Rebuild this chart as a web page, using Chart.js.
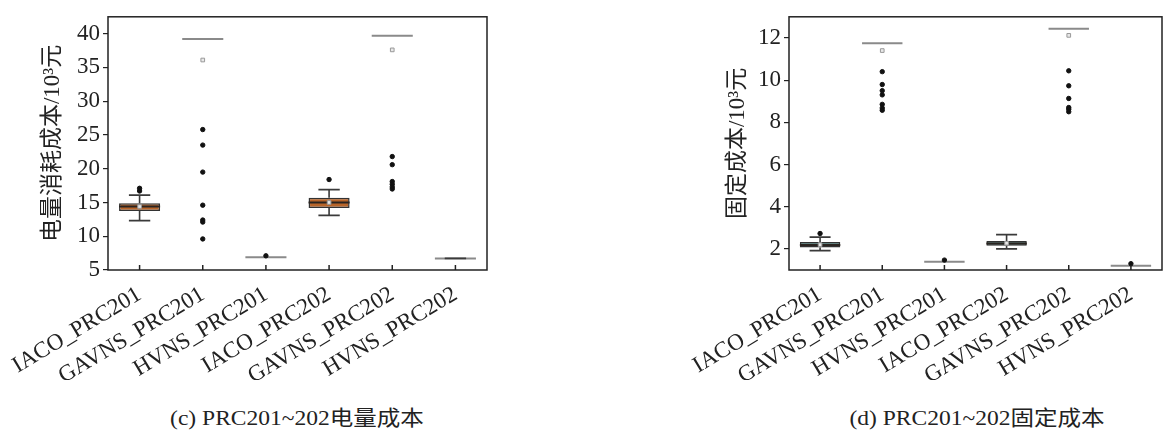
<!DOCTYPE html>
<html>
<head>
<meta charset="utf-8">
<script src="https://cdn.jsdelivr.net/npm/chart.js@4"></script>
<style>
  html, body { margin: 0; padding: 0; background: #fff; overflow: hidden; }
  #wrap { position: relative; width: 1165px; height: 432px; }
  .panel { position: absolute; top: 0; }
  .caption {
    position: absolute; top: 401px; transform: translateX(-50%) scaleX(1.12);
    font-family: "Liberation Serif", "Noto Sans CJK SC"; font-size: 21px;
    color: #222; white-space: nowrap;
  }
</style>
</head>
<body>
<div id="wrap">
  <div class="panel" style="left:0"><canvas id="elec" width="582" height="380"></canvas></div>
  <div class="panel" style="left:582px"><canvas id="fixed" width="585" height="380"></canvas></div>
  <div class="caption" style="left:297px">(c) PRC201~202电量成本</div>
  <div class="caption" style="left:977px">(d) PRC201~202固定成本</div>
</div>
<script>
const categories = ['IACO_PRC201', 'GAVNS_PRC201', 'HVNS_PRC201', 'IACO_PRC202', 'GAVNS_PRC202', 'HVNS_PRC202'];

// (c) 电量成本
const elecQ1 = [13.75, 39.2, 6.88, 14.2, 39.7, 6.7];
const elecQ3 = [14.9, 39.2, 6.88, 15.7, 39.7, 6.7];
const elecMedian = [14.4, 39.2, 6.88, 15.0, 39.7, 6.7];
const elecLow = [12.3, null, null, 13.1, null, 6.72];
const elecHigh = [16.1, null, null, 16.9, null, 6.72];
const elecMean = [14.4, 36.1, null, 15.0, 37.6, null];
const elecOutliers = [[17.1, 16.7], [25.8, 23.5, 19.5, 14.6, 12.4, 12.1, 9.6], [7.1], [18.4], [21.8, 20.6, 18.1, 17.7, 17.3, 17.0], []];
const elecTicks = [5, 10, 15, 20, 25, 30, 35, 40];

// (d) 固定成本
const fixedQ1 = [2.07, 11.75, 1.39, 2.15, 12.43, 1.2];
const fixedQ3 = [2.33, 11.75, 1.39, 2.38, 12.43, 1.2];
const fixedMedian = [2.18, 11.75, 1.39, 2.26, 12.43, 1.2];
const fixedLow = [1.92, null, null, 2.0, null, null];
const fixedHigh = [2.56, null, null, 2.68, null, null];
const fixedMean = [2.2, 11.4, null, 2.27, 12.12, null];
const fixedOutliers = [[2.73], [10.4, 9.79, 9.5, 9.3, 8.85, 8.68, 8.57], [1.47], [], [10.44, 9.73, 9.13, 8.7, 8.62, 8.5], [1.3]];
const fixedTicks = [2, 4, 6, 8, 10, 12];

const serif = 'Liberation Serif';
const BAR_PCT = 0.65;

function makeBoxChart(id, s) {
  // 须线, 中位线, 外框和内刻度
  const boxParts = {
    id: 'boxParts',
    afterDatasetDraw(chart, args) {
      if (args.index !== 0) return;
      const ctx = chart.ctx, x = chart.scales.x, y = chart.scales.y;
      const boxW = x.width / categories.length * BAR_PCT;
      const capW = boxW * 0.52;
      ctx.save();
      categories.forEach((c, i) => {
        const cx = x.getPixelForValue(i);
        if (s.high[i] != null) {
          ctx.strokeStyle = '#3a3a3a';
          ctx.lineWidth = 1.6;
          ctx.beginPath();
          ctx.moveTo(cx, y.getPixelForValue(s.q3[i]));
          ctx.lineTo(cx, y.getPixelForValue(s.high[i]));
          ctx.moveTo(cx, y.getPixelForValue(s.q1[i]));
          ctx.lineTo(cx, y.getPixelForValue(s.low[i]));
          ctx.stroke();
        }
        const real = s.q3[i] > s.q1[i];
        ctx.strokeStyle = real ? '#2a2420' : '#8a8a8a';
        ctx.lineWidth = 2;
        const my = y.getPixelForValue(s.median[i]);
        ctx.beginPath();
        ctx.moveTo(cx - boxW / 2, my);
        ctx.lineTo(cx + boxW / 2, my);
        ctx.stroke();
        if (s.high[i] != null) {
          ctx.strokeStyle = '#3a3a3a';
          ctx.lineWidth = 1.8;
          ctx.beginPath();
          [s.high[i], s.low[i]].forEach(v => {
            const py = y.getPixelForValue(v);
            ctx.moveTo(cx - capW / 2, py);
            ctx.lineTo(cx + capW / 2, py);
          });
          ctx.stroke();
        }
      });
      ctx.restore();
    },
    afterDraw(chart) {
      const ctx = chart.ctx, a = chart.chartArea, x = chart.scales.x;
      ctx.save();
      ctx.strokeStyle = '#222';
      ctx.lineWidth = 1.5;
      ctx.strokeRect(a.left, a.top, a.right - a.left, a.bottom - a.top);
      ctx.beginPath();
      categories.forEach((c, i) => {
        const px = x.getPixelForValue(i);
        ctx.moveTo(px, a.bottom);
        ctx.lineTo(px, a.bottom - 5);
      });
      ctx.stroke();
      ctx.restore();
    }
  };

  const outlierPoints = [];
  s.outliers.forEach((list, i) => list.forEach(v => outlierPoints.push({ x: categories[i], y: v })));

  return new Chart(document.getElementById(id), {
    type: 'bar',
    data: {
      labels: categories,
      datasets: [{
        data: s.q1.map((v, i) => s.q3[i] > v ? [v, s.q3[i]] : null),
        backgroundColor: s.color,
        borderColor: '#333',
        borderWidth: 1.5,
        borderSkipped: false,
        barPercentage: BAR_PCT,
        categoryPercentage: 1,
        order: 3
      }, {
        type: 'line',
        data: s.mean,
        showLine: false,
        pointStyle: 'rect',
        pointRadius: 2.6,
        pointBackgroundColor: '#e8e8e8',
        pointBorderColor: '#999',
        pointBorderWidth: 1,
        order: 2
      }, {
        type: 'line',
        data: outlierPoints,
        showLine: false,
        pointRadius: 2.2,
        pointBackgroundColor: '#111',
        pointBorderColor: '#111',
        order: 1
      }]
    },
    options: {
      responsive: false,
      animation: false,
      layout: { padding: { top: 6, right: s.padRight, left: 0, bottom: 0 } },
      plugins: { legend: { display: false }, tooltip: { enabled: false } },
      scales: {
        x: {
          offset: true,
          grid: { display: false },
          border: { display: false },
          ticks: {
            color: '#222', font: { family: serif, size: 23 },
            minRotation: 31, maxRotation: 31, autoSkip: false, padding: 3
          },
          afterFit(scale) { scale.height = 110; scale.paddingLeft = 0; scale.paddingRight = 0; }
        },
        y: {
          min: s.yMin, max: s.yMax,
          grid: { drawOnChartArea: false, drawTicks: true, tickLength: 5, color: '#222', lineWidth: 1.2 },
          border: { display: false },
          ticks: { color: '#222', font: { family: serif, size: 23 }, padding: 3 },
          afterBuildTicks(scale) { scale.ticks = s.ticks.map(v => ({ value: v })); },
          title: {
            display: true, text: s.title, color: '#222',
            font: { family: '"Liberation Serif", "Noto Sans CJK SC"', size: 23 },
            padding: { top: s.titlePad, bottom: 0 }
          },
          afterFit(scale) { scale.width = s.axisWidth; }
        }
      }
    },
    plugins: [boxParts]
  });
}

makeBoxChart('elec', {
  q1: elecQ1, q3: elecQ3, median: elecMedian, low: elecLow, high: elecHigh,
  mean: elecMean, outliers: elecOutliers, ticks: elecTicks,
  color: '#b8652a', yMin: 5, yMax: 42.5,
  title: '电量消耗成本/10³元', axisWidth: 108, titlePad: 39, padRight: 95
});

makeBoxChart('fixed', {
  q1: fixedQ1, q3: fixedQ3, median: fixedMedian, low: fixedLow, high: fixedHigh,
  mean: fixedMean, outliers: fixedOutliers, ticks: fixedTicks,
  color: '#2b6662', yMin: 1, yMax: 13,
  title: '固定成本/10³元', axisWidth: 207, titlePad: 142, padRight: 1
});
</script>
</body>
</html>
